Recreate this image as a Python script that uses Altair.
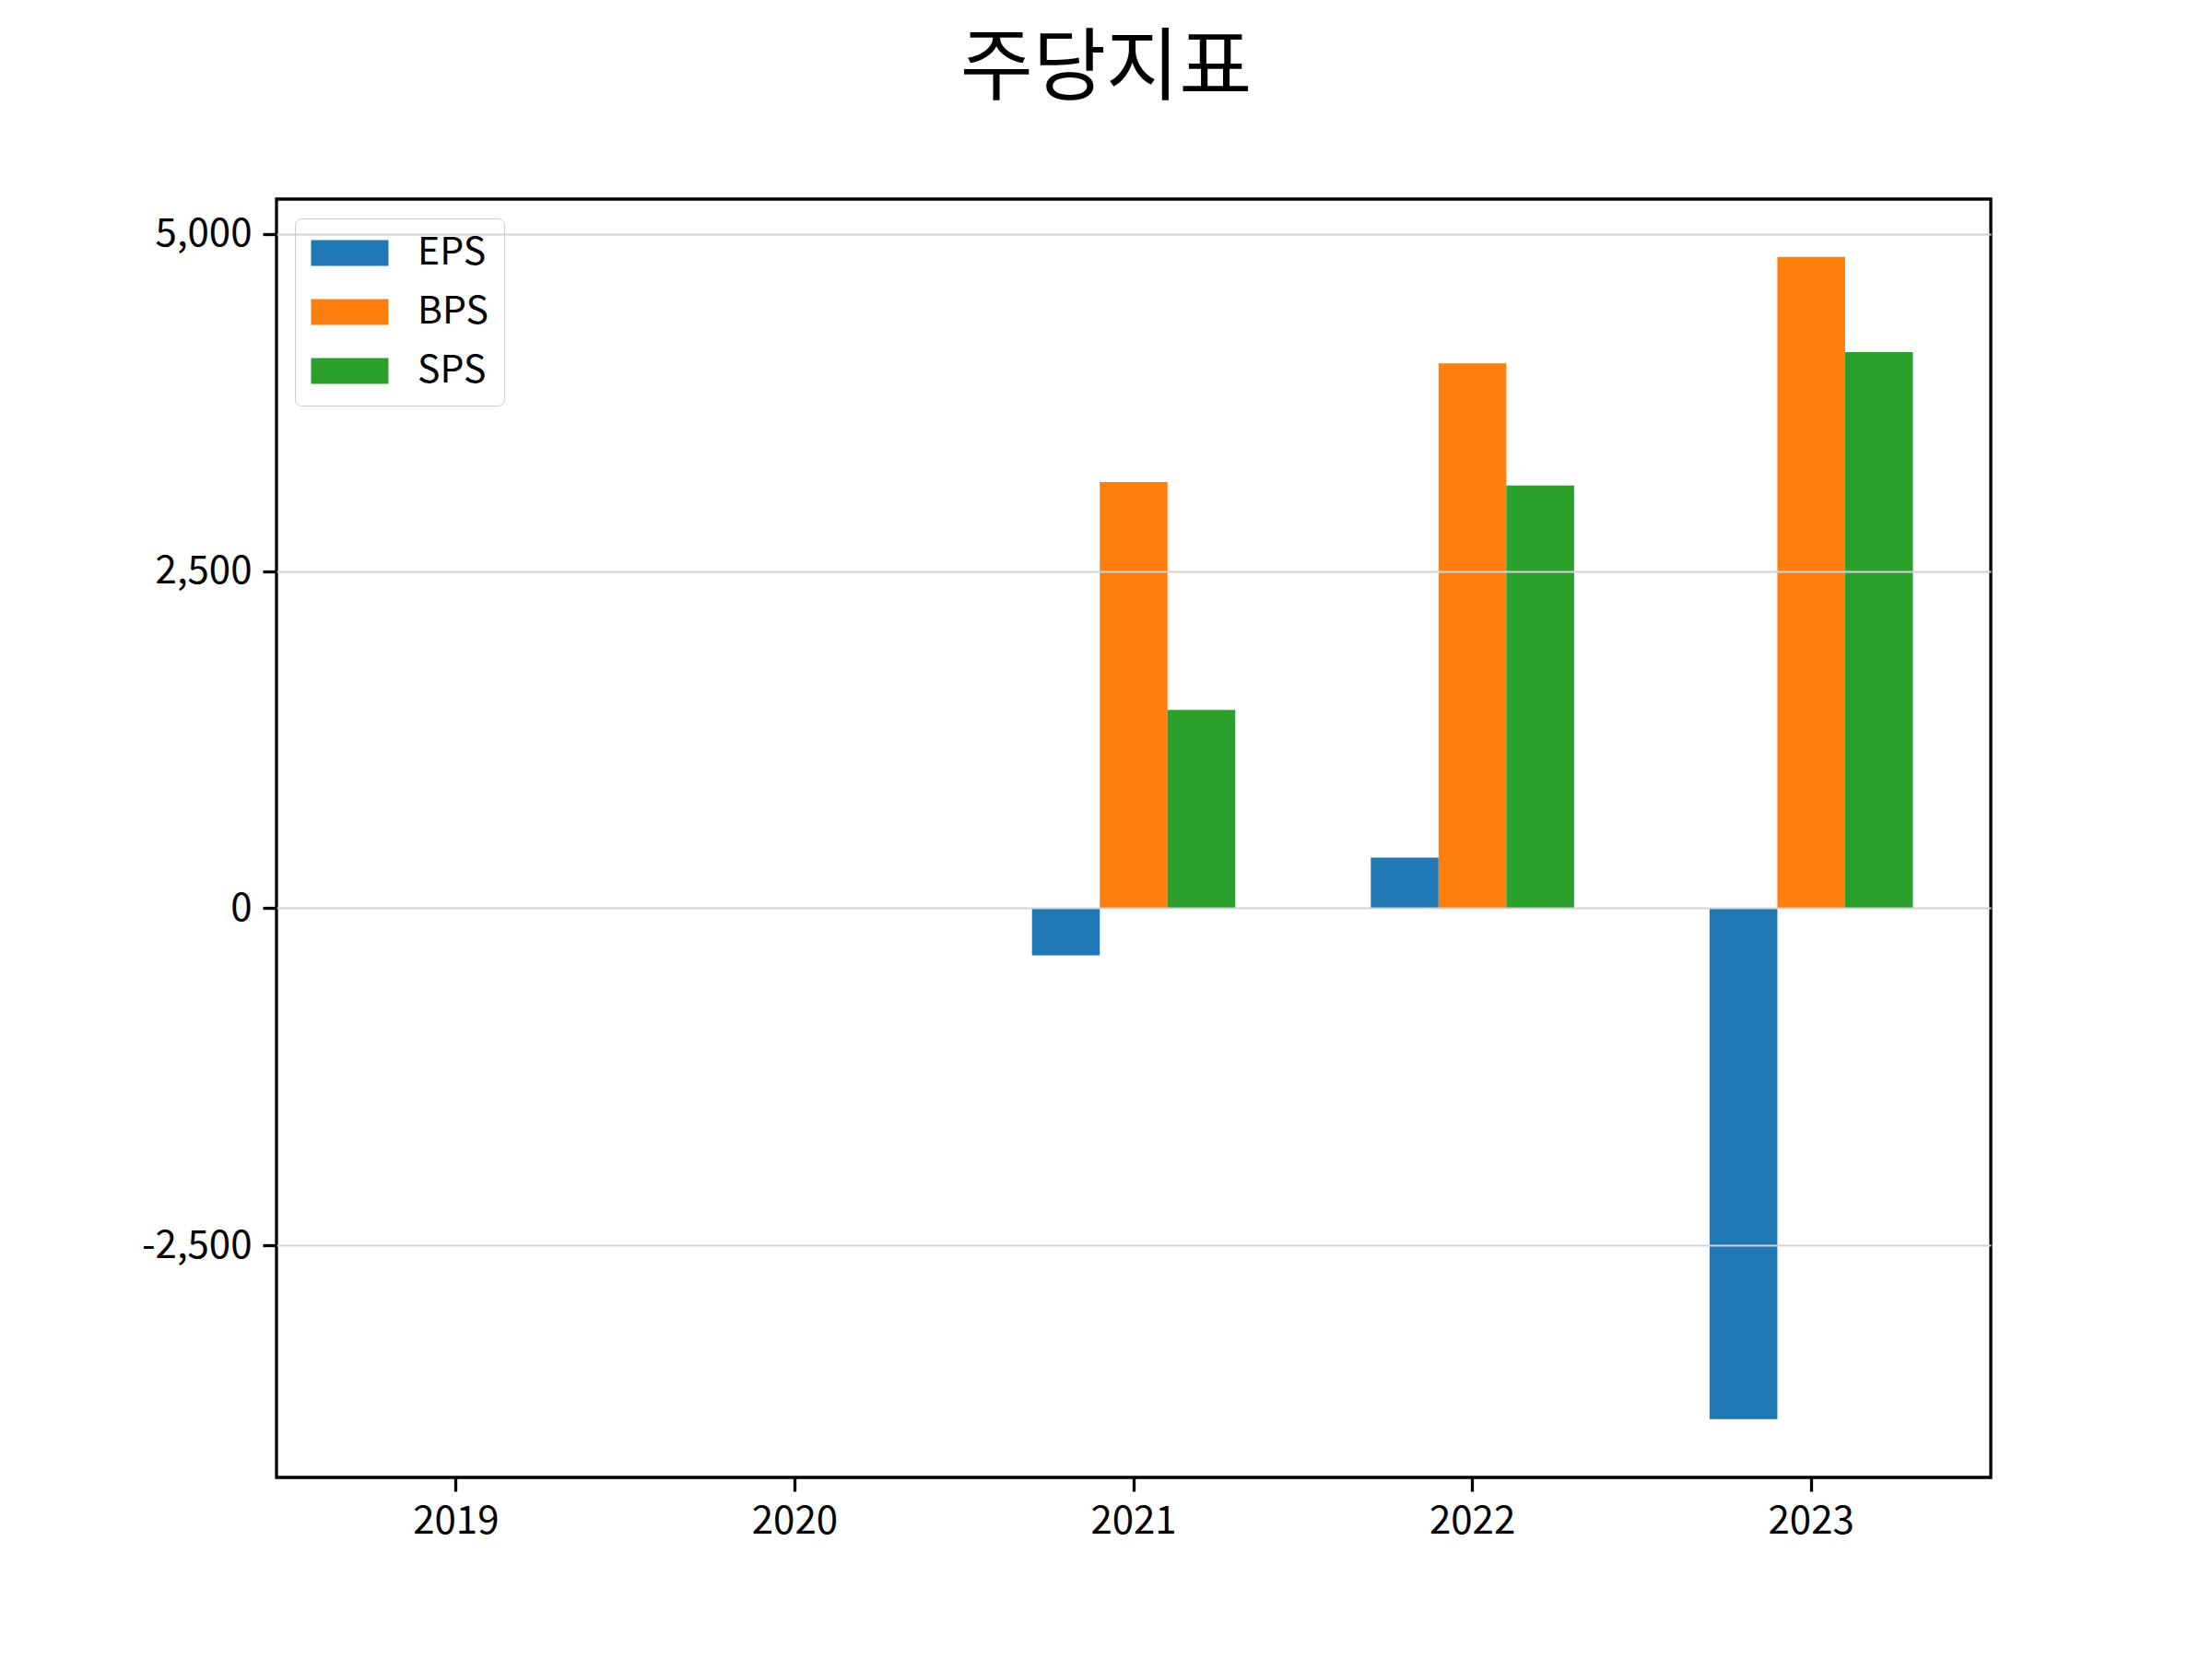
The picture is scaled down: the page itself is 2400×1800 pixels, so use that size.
import altair as alt
import pandas as pd

years = ["2019", "2020", "2021", "2022", "2023"]
series = ["EPS", "BPS", "SPS"]
eps = [None, None, -350, 375, -3790]
bps = [None, None, 3160, 4040, 4830]
sps = [None, None, 1470, 3135, 4125]
colors = ["#1f77b4", "#ff7f0e", "#2ca02c"]
y_ticks = [-2500, 0, 2500, 5000]

rows = []
for name, vals in zip(series, [eps, bps, sps]):
    for yr, v in zip(years, vals):
        if v is not None:
            rows.append({"year": yr, "series": name, "value": v})
df = pd.DataFrame(rows)

FONT = "Noto Sans CJK KR"

chart = alt.Chart(
    df,
    title=alt.TitleParams(
        "주당지표", fontSize=86, font=FONT, fontWeight="normal",
        anchor="middle", dx=-30, offset=96, color="black",
    ),
).mark_bar().encode(
    x=alt.X(
        "year:N",
        scale=alt.Scale(domain=years, paddingInner=0.4, paddingOuter=0.23),
        axis=alt.Axis(title=None, labelAngle=0, grid=False, labelPadding=12),
    ),
    xOffset=alt.XOffset(
        "series:N", scale=alt.Scale(domain=series, paddingInner=0, paddingOuter=0)
    ),
    y=alt.Y(
        "value:Q",
        scale=alt.Scale(domain=[-4222, 5259], nice=False, zero=False),
        axis=alt.Axis(
            title=None, values=y_ticks, grid=True, gridColor="#d3d3d3",
            gridWidth=2, zindex=1, labelPadding=12,
            labelExpr="datum.value < 0 ? '-' + format(-datum.value, ',') : format(datum.value, ',')",
        ),
    ),
    color=alt.Color(
        "series:N",
        scale=alt.Scale(domain=series, range=colors),
        legend=alt.Legend(
            title=None, orient="none", legendX=20, legendY=21,
            symbolType="M-1.43,-1L4.57,-1L4.57,1L-1.43,1Z",
            symbolSize=784, symbolStrokeWidth=0, symbolOpacity=1,
            labelFont=FONT, labelFontSize=41, labelColor="black",
            labelOffset=75, padding=17, rowPadding=22,
            strokeColor="#cccccc", cornerRadius=7,
            fillColor="rgba(255,255,255,0.8)",
        ),
    ),
).properties(
    width=1860, height=1387,
    autosize=alt.AutoSizeParams(type="none"),
    padding={"left": 292, "top": 208, "right": 220, "bottom": 180},
).configure_view(
    stroke="black", strokeWidth=3.3
).configure_axis(
    domain=False, tickColor="black", tickWidth=3.3, tickSize=15,
    labelFont=FONT, labelFontSize=42, labelColor="black",
)

chart.save("out.html", embed_options={"renderer": "svg", "actions": False})
